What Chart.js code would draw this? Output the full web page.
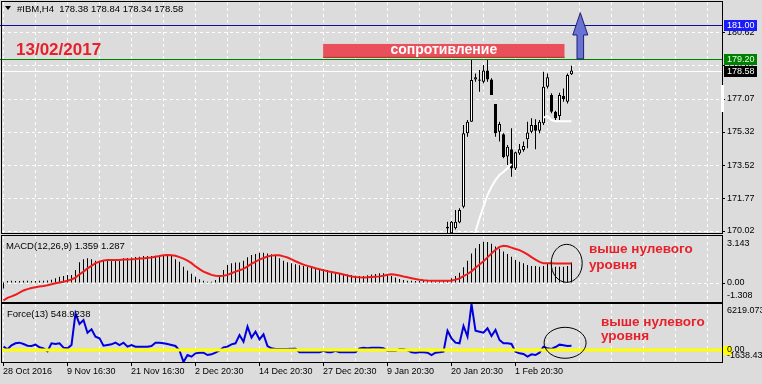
<!DOCTYPE html>
<html>
<head>
<meta charset="utf-8">
<script src="https://cdn.jsdelivr.net/npm/chart.js@4.4.1/dist/chart.umd.min.js"></script>
<style>
  html, body { margin: 0; padding: 0; background: #dcdcdc; }
  #wrap { position: relative; width: 762px; height: 384px; overflow: hidden; background: #dcdcdc; }
  #wrap canvas { position: absolute; left: 0; }
</style>
</head>
<body>
<div id="wrap">
  <canvas id="main-chart" width="762" height="236" style="top:0"></canvas>
  <canvas id="macd-chart" width="762" height="70" style="top:234px"></canvas>
  <canvas id="force-chart" width="762" height="82" style="top:302px"></canvas>
</div>
<script>
// ---- data (H4 bars, index 0 = 28 Oct 2016) ----
const symbolTitle = '#IBM,H4  178.38 178.84 178.34 178.58';
const dateTickLabels = ['28 Oct 2016', '9 Nov 16:30', '21 Nov 16:30', '2 Dec 20:30', '14 Dec 20:30',
  '27 Dec 20:30', '9 Jan 20:30', '20 Jan 20:30', '1 Feb 20:30'];
const priceTicks = [170.02, 171.77, 173.52, 175.32, 177.07, 178.87, 180.62];

// candles visible in the price window start at bar 111
const candleStart = 111;
const candleOpen = [170.15, 169.90, 170.16, 170.47, 171.32, 175.23, 175.85, 178.11, 178.04, 177.99,
  178.58, 178.11, 176.80, 175.32, 175.18, 173.99, 174.38, 173.36, 174.16, 174.34,
  174.91, 175.32, 175.68, 175.37, 175.77, 177.72, 177.28, 176.39, 176.16, 177.22, 176.92, 178.38];
const candleHigh = [170.52, 170.55, 171.14, 171.23, 175.68, 175.94, 179.14, 178.43, 178.61, 178.88,
  179.14, 178.17, 176.80, 175.85, 175.23, 174.61, 175.50, 174.25, 174.66, 174.79,
  175.85, 176.03, 175.98, 175.94, 178.52, 178.43, 177.37, 176.44, 177.40, 177.63, 178.43, 178.84];
const candleLow = [169.90, 169.85, 170.10, 170.43, 171.23, 175.05, 175.85, 177.99, 177.45, 177.90,
  177.99, 177.28, 175.05, 174.79, 173.90, 173.54, 172.92, 173.28, 174.08, 174.25,
  174.43, 175.23, 174.38, 175.23, 175.68, 177.63, 176.30, 175.94, 175.94, 176.92, 176.83, 178.34];
const candleClose = [170.25, 170.52, 170.52, 171.14, 175.23, 175.85, 178.08, 178.22, 178.11, 178.58,
  178.11, 177.28, 175.23, 175.73, 173.95, 174.52, 173.36, 174.22, 174.38, 174.56,
  175.27, 175.68, 175.37, 175.85, 177.72, 178.22, 176.39, 176.03, 177.28, 177.05, 178.34, 178.58];
const whiteLine = [null, null, null, null, null, null, 169.30, 169.98, 170.70, 171.32,
  171.94, 172.38, 172.74, 173.01, 173.18, 173.37, 173.60, null, null, null,
  null, null, null, null, 176.07, 176.16, 175.94, 175.87, 175.87, 175.87, 175.87, 175.87];

const targetLevel = 181.00;
const resistanceLevel = 179.20;
const bidLevel = 178.58;

const macdMain = [-0.4, 0.1, 0.12, 0.1, 0.11, 0.13, 0.12, 0.1, 0.11, 0.12,
  0.13, 0.15, 0.2, 0.29, 0.4, 0.45, 0.52, 0.52, 0.85, 1.37,
  1.57, 1.64, 1.57, 1.48, 1.48, 1.53, 1.55, 1.57, 1.59, 1.6,
  1.64, 1.66, 1.7, 1.72, 1.75, 1.79, 1.8, 1.79, 1.81, 1.83,
  1.85, 1.86, 1.79, 1.57, 1.41, 1.07, 0.81, 0.59, 0.4, 0.22,
  0.13, 0.06, 0.06, 0.18, 0.45, 0.85, 1.19, 1.3, 1.35, 1.35,
  1.48, 1.71, 1.86, 1.93, 2.02, 2.02, 1.97, 1.91, 1.79, 1.64,
  1.48, 1.37, 1.3, 1.23, 1.17, 1.12, 1.07, 1.03, 0.96, 0.92,
  0.9, 0.85, 0.78, 0.7, 0.63, 0.58, 0.54, 0.52, 0.47, 0.45,
  0.45, 0.49, 0.54, 0.58, 0.63, 0.63, 0.54, 0.45, 0.34, 0.25,
  0.18, 0.13, 0.12, 0.11, 0.1, 0.11, 0.09, 0.1, 0.08, 0.09,
  0.1, 0.12, 0.29, 0.45, 0.67, 1.03, 1.48, 1.97, 2.31, 2.6,
  2.76, 2.74, 2.62, 2.43, 2.29, 2.1, 1.93, 1.75, 1.53, 1.41,
  1.3, 1.19, 1.12, 1.12, 1.07, 1.12, 1.3, 1.2, 1.07, 1.07,
  1.07, 1.12, 1.359];
const macdSignal = [-1.2, -1.03, -0.93, -0.82, -0.68, -0.53, -0.44, -0.36, -0.31, -0.27,
  -0.23, -0.18, -0.11, -0.05, 0.01, 0.06, 0.13, 0.21, 0.34, 0.56,
  0.74, 0.96, 1.13, 1.31, 1.41, 1.49, 1.52, 1.53, 1.53, 1.53,
  1.55, 1.56, 1.57, 1.59, 1.62, 1.63, 1.67, 1.7, 1.75, 1.79,
  1.84, 1.86, 1.85, 1.81, 1.72, 1.62, 1.48, 1.31, 1.09, 0.91,
  0.74, 0.63, 0.52, 0.46, 0.44, 0.46, 0.52, 0.63, 0.74, 0.83,
  0.93, 1.09, 1.26, 1.42, 1.55, 1.66, 1.76, 1.82, 1.85, 1.84,
  1.77, 1.69, 1.57, 1.44, 1.32, 1.21, 1.13, 1.05, 0.97, 0.9,
  0.84, 0.77, 0.72, 0.67, 0.61, 0.55, 0.48, 0.41, 0.38, 0.36,
  0.35, 0.36, 0.38, 0.4, 0.42, 0.46, 0.53, 0.56, 0.53, 0.48,
  0.41, 0.36, 0.3, 0.24, 0.19, 0.16, 0.14, 0.13, 0.13, 0.13,
  0.13, 0.13, 0.13, 0.2, 0.28, 0.43, 0.58, 0.76, 1.0, 1.22,
  1.44, 1.7, 1.97, 2.21, 2.41, 2.49, 2.45, 2.36, 2.27, 2.19,
  2.06, 1.9, 1.72, 1.55, 1.4, 1.3, 1.3, 1.3, 1.29, 1.29,
  1.29, 1.29, 1.287];
const macdRange = [-1.308, 3.143];

const forceIndex = [440, 78, 618, 891, 980, 800, 574, 529, 710, 349,
  214, -173, 891, 800, 891, 303, 214, 665, 4953, 3508,
  4050, 2334, 2786, 1793, 1568, 574, 665, 755, 980, 665,
  980, 440, 665, 440, 440, 440, 440, 529, 980, 980,
  891, 800, 665, 529, -80, -1638.43, -690, -915, -463, -374,
  -374, -690, -601, -374, -80, 349, 440, 755, 891, 2019,
  1116, 3147, 1659, 2470, 1432, 2109, 529, 214, 123, 123,
  123, 123, 168, 168, -328, -328, -328, -328, -328, -328,
  -126, -328, -328, -126, -328, -328, -328, -328, -328, 214,
  303, 214, 303, 303, 303, 214, -126, -126, -126, 78,
  78, -33, -328, -374, -328, -328, -374, -690, -374, -328,
  -238, 2606, 1568, 980, 891, 3237, 1793, 6219.073, 2606, 2470,
  2334, 2922, 1883, 2696, 1342, 891, 891, 800, -238, -463,
  -554, -915, -601, -690, -374, 440, 214, 123, 394, 710,
  618, 529, 548.9238];
const forceRange = [-1638.43, 6219.073];

// ---- layout ----
const X_MIN = -0.375, X_MAX = 179.625;   // 4 px per bar
const RIGHT_PAD = 40;
const FONT = '"Liberation Sans", Arial, sans-serif';
const RED_TEXT = '#e8202a';

function baseOptions(padding, y) {
  return {
    responsive: false,
    animation: false,
    events: [],
    layout: { padding },
    plugins: { legend: { display: false }, tooltip: { enabled: false } },
    scales: {
      x: { type: 'linear', min: X_MIN, max: X_MAX, display: false, offset: false },
      y: Object.assign({ display: false }, y)
    }
  };
}

function drawGrid(chart, yValues) {
  const { ctx, chartArea: a, scales } = chart;
  ctx.save();
  ctx.strokeStyle = '#ffffff';
  ctx.lineWidth = 1;
  ctx.setLineDash([3, 3]);
  ctx.beginPath();
  for (let i = 0; i <= 179; i += 8) {
    const x = scales.x.getPixelForValue(i);
    ctx.moveTo(x, a.top); ctx.lineTo(x, a.bottom);
  }
  yValues.forEach(v => {
    const y = Math.round(scales.y.getPixelForValue(v)) + 0.5;
    ctx.moveTo(a.left, y); ctx.lineTo(a.right, y);
  });
  ctx.stroke();
  ctx.restore();
}

function drawFrame(chart) {
  const { ctx, chartArea: a } = chart;
  ctx.save();
  ctx.strokeStyle = '#000';
  ctx.lineWidth = 1;
  ctx.strokeRect(a.left - 0.5, a.top - 0.5, a.right - a.left + 1, a.bottom - a.top + 1);
  ctx.restore();
}

function axisLabel(ctx, text, y, tick) {
  ctx.fillStyle = '#000';
  ctx.fillText(text, 727, y);
  if (tick) {
    ctx.fillRect(722, Math.round(y), 3, 1);
  }
}

function valueBox(ctx, text, y, bg, fg) {
  ctx.fillStyle = bg;
  ctx.fillRect(724, Math.round(y) - 5, 33, 11);
  ctx.fillStyle = fg;
  ctx.fillText(text, 727, y + 0.5);
}

function redNote(ctx, x, y1, y2) {
  ctx.fillStyle = RED_TEXT;
  ctx.font = 'bold 13.5px ' + FONT;
  ctx.textBaseline = 'alphabetic';
  ctx.fillText('выше нулевого', x, y1);
  ctx.fillText('уровня', x, y2);
}

function ellipseAt(chart, idx, val, rx, ry) {
  const { ctx, scales } = chart;
  ctx.save();
  ctx.strokeStyle = '#000';
  ctx.lineWidth = 1;
  ctx.beginPath();
  ctx.ellipse(scales.x.getPixelForValue(idx), scales.y.getPixelForValue(val), rx, ry, 0, 0, Math.PI * 2);
  ctx.stroke();
  ctx.restore();
}

// ---- main price chart ----
const bars = candleOpen.map((o, k) => candleStart + k);

const mainPanel = {
  id: 'mainPanel',
  beforeDatasetsDraw(chart) {
    const { ctx, chartArea: a, scales } = chart;
    drawGrid(chart, priceTicks);
    const lines = [
      { v: bidLevel, c: '#ffffff' },
      { v: resistanceLevel, c: '#008000' },
      { v: targetLevel, c: '#1010a0' }
    ];
    ctx.save();
    lines.forEach(l => {
      const y = Math.round(scales.y.getPixelForValue(l.v)) + 0.5;
      ctx.strokeStyle = l.c;
      ctx.beginPath(); ctx.moveTo(0, y); ctx.lineTo(a.right, y); ctx.stroke();
    });
    ctx.restore();
  },
  afterDraw(chart) {
    const { ctx, chartArea: a, scales } = chart;
    const xs = scales.x, ys = scales.y;
    drawFrame(chart);
    ctx.save();

    // resistance box
    const bx1 = xs.getPixelForValue(79.9), bx2 = xs.getPixelForValue(140.25);
    const by1 = ys.getPixelForValue(180.0), by2 = ys.getPixelForValue(179.26);
    ctx.fillStyle = '#e9505b';
    ctx.fillRect(bx1, by1, bx2 - bx1, by2 - by1);
    ctx.fillStyle = '#a03a20';
    ctx.fillRect(bx1, by2 - 1, bx2 - bx1, 1);
    ctx.fillStyle = '#ffffff';
    ctx.font = 'bold 14px ' + FONT;
    ctx.textAlign = 'center';
    ctx.textBaseline = 'alphabetic';
    ctx.fillText('сопротивление', (bx1 + bx2) / 2, by2 - 4);

    // target arrow
    const ax = xs.getPixelForValue(144.2);
    const tipY = ys.getPixelForValue(181.67), headY = ys.getPixelForValue(180.48), baseY = ys.getPixelForValue(resistanceLevel);
    ctx.beginPath();
    ctx.moveTo(ax, tipY);
    ctx.lineTo(ax + 7.5, headY);
    ctx.lineTo(ax + 3.3, headY);
    ctx.lineTo(ax + 3.3, baseY);
    ctx.lineTo(ax - 3.3, baseY);
    ctx.lineTo(ax - 3.3, headY);
    ctx.lineTo(ax - 7.5, headY);
    ctx.closePath();
    ctx.fillStyle = '#6a72d4';
    ctx.fill();
    ctx.strokeStyle = '#1b2070';
    ctx.lineWidth = 1;
    ctx.stroke();

    // date note
    ctx.textAlign = 'left';
    ctx.fillStyle = RED_TEXT;
    ctx.font = 'bold 17px ' + FONT;
    ctx.fillText('13/02/2017', 16, 55);

    // title
    ctx.fillStyle = '#000';
    ctx.beginPath();
    ctx.moveTo(5, 6); ctx.lineTo(11, 6); ctx.lineTo(8, 10); ctx.closePath(); ctx.fill();
    ctx.font = '9.5px ' + FONT;
    ctx.fillText(symbolTitle, 17, 12);

    // price axis
    ctx.font = '9px ' + FONT;
    ctx.textBaseline = 'middle';
    priceTicks.forEach(v => axisLabel(ctx, v.toFixed(2), ys.getPixelForValue(v), true));
    ctx.fillStyle = '#ffffff';
    ctx.fillRect(721, 85, 3, 27);
    valueBox(ctx, targetLevel.toFixed(2), ys.getPixelForValue(targetLevel), '#1a1aff', '#ffffff');
    valueBox(ctx, resistanceLevel.toFixed(2), ys.getPixelForValue(resistanceLevel), '#008000', '#e8ffe8');
    valueBox(ctx, bidLevel.toFixed(2), ys.getPixelForValue(bidLevel), '#000000', '#ffffff');
    ctx.restore();
  }
};

new Chart(document.getElementById('main-chart'), {
  data: {
    datasets: [
      {
        type: 'line',
        data: whiteLine.map((v, k) => ({ x: bars[k], y: v })),
        borderColor: '#ffffff',
        borderWidth: 2,
        pointRadius: 0,
        spanGaps: false,
        order: 1
      },
      {
        type: 'bar',
        data: candleOpen.map((o, k) => ({ x: bars[k], y: [o, candleClose[k]] })),
        backgroundColor: candleOpen.map((o, k) => candleClose[k] >= o ? '#ffffff' : '#000000'),
        borderColor: '#000000',
        borderWidth: 1,
        borderSkipped: false,
        barThickness: 3,
        inflateAmount: 0,
        grouped: false,
        order: 2
      },
      {
        type: 'bar',
        data: candleHigh.map((h, k) => ({ x: bars[k], y: [candleLow[k], h] })),
        backgroundColor: '#000000',
        borderWidth: 0,
        barThickness: 1,
        inflateAmount: 0,
        grouped: false,
        order: 3
      }
    ]
  },
  options: baseOptions({ top: 2, bottom: 3, left: 2, right: RIGHT_PAD }, { min: 169.913, max: 182.24 }),
  plugins: [mainPanel]
});

// ---- MACD ----
const macdPanel = {
  id: 'macdPanel',
  beforeDatasetsDraw(chart) { drawGrid(chart, [0]); },
  afterDraw(chart) {
    const { ctx, chartArea: a, scales } = chart;
    drawFrame(chart);
    ctx.save();
    ctx.font = '9px ' + FONT;
    ctx.textBaseline = 'middle';
    axisLabel(ctx, macdRange[1].toFixed(3), a.top + 8, false);
    axisLabel(ctx, '0.00', scales.y.getPixelForValue(0), true);
    axisLabel(ctx, macdRange[0].toFixed(3), a.bottom - 6, false);
    ctx.font = '9.5px ' + FONT;
    ctx.fillText('MACD(12,26,9) ' + macdMain[macdMain.length - 1].toFixed(3) + ' ' + macdSignal[macdSignal.length - 1].toFixed(3), 6, a.top + 10);
    ctx.restore();
    ellipseAt(chart, 140.8, 1.3, 15.5, 19);
    ctx.save();
    redNote(ctx, 589, 19, 35);
    ctx.restore();
  }
};

new Chart(document.getElementById('macd-chart'), {
  data: {
    datasets: [
      {
        type: 'line',
        data: macdSignal.map((v, i) => ({ x: i, y: v })),
        borderColor: '#ee1c1c',
        borderWidth: 2,
        pointRadius: 0,
        order: 1
      },
      {
        type: 'bar',
        data: macdMain.map((v, i) => ({ x: i, y: v })),
        backgroundColor: '#000000',
        borderWidth: 0,
        barThickness: 1,
        inflateAmount: 0,
        order: 2
      }
    ]
  },
  options: baseOptions({ top: 2, bottom: 2, left: 2, right: RIGHT_PAD }, { min: macdRange[0], max: macdRange[1] }),
  plugins: [macdPanel]
});

// ---- Force index ----
const forcePanel = {
  id: 'forcePanel',
  beforeDatasetsDraw(chart) { drawGrid(chart, []); },
  afterDatasetsDraw(chart) {
    const { ctx, chartArea: a, scales } = chart;
    const y = scales.y.getPixelForValue(0);
    ctx.save();
    ctx.strokeStyle = '#ffff00';
    ctx.lineWidth = 3;
    ctx.beginPath(); ctx.moveTo(a.left, y); ctx.lineTo(a.right, y); ctx.stroke();
    ctx.restore();
  },
  afterDraw(chart) {
    const { ctx, chartArea: a, scales } = chart;
    drawFrame(chart);
    ctx.save();
    ctx.font = '9px ' + FONT;
    ctx.textBaseline = 'middle';
    axisLabel(ctx, forceRange[1].toFixed(3), a.top + 7, false);
    const zy = scales.y.getPixelForValue(0);
    ctx.fillStyle = '#ffff00';
    ctx.fillRect(723, zy - 4, 9, 9);
    axisLabel(ctx, '0.00', zy, false);
    axisLabel(ctx, forceRange[0].toFixed(2), a.bottom - 6, false);
    ctx.font = '9.5px ' + FONT;
    ctx.fillText('Force(13) ' + forceIndex[forceIndex.length - 1].toFixed(4), 7, a.top + 10);

    // time axis
    ctx.font = '9px ' + FONT;
    ctx.textBaseline = 'middle';
    dateTickLabels.forEach((t, k) => {
      const x = scales.x.getPixelForValue(k * 16);
      ctx.fillStyle = '#000';
      ctx.fillRect(Math.floor(x), a.bottom, 1, 4);
      ctx.fillText(t, Math.floor(x), a.bottom + 10);
    });
    ctx.restore();
    ellipseAt(chart, 140.4, 962, 21, 15.5);
    ctx.save();
    redNote(ctx, 601, 24, 38);
    ctx.restore();
  }
};

new Chart(document.getElementById('force-chart'), {
  data: {
    datasets: [
      {
        type: 'line',
        data: forceIndex.map((v, i) => ({ x: i, y: v })),
        borderColor: '#0000dd',
        borderWidth: 2,
        pointRadius: 0
      }
    ]
  },
  options: baseOptions({ top: 2, bottom: 22, left: 2, right: RIGHT_PAD }, { min: forceRange[0], max: forceRange[1] }),
  plugins: [forcePanel]
});
</script>
</body>
</html>
